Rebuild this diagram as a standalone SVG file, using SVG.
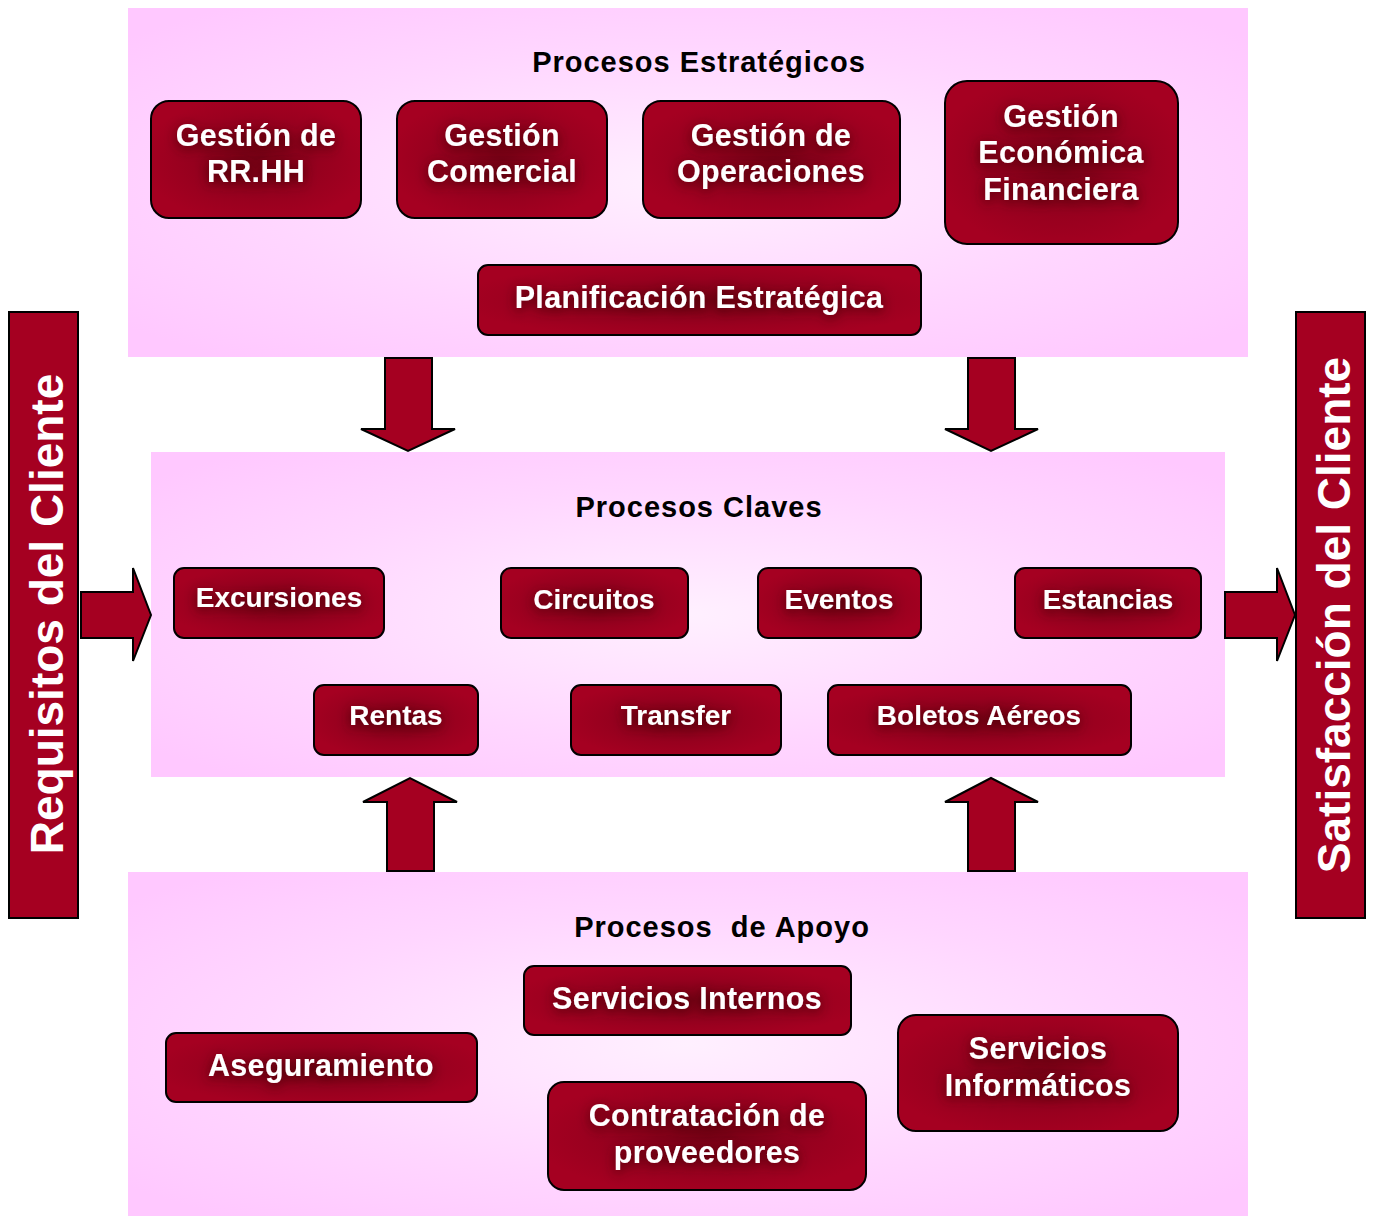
<svg xmlns="http://www.w3.org/2000/svg" width="1374" height="1216" viewBox="0 0 1374 1216">
  <defs>
    <radialGradient id="panelFill" cx="50%" cy="50%" r="65%">
      <stop offset="0" stop-color="#fff0ff"/>
      <stop offset="0.6" stop-color="#ffd6ff"/>
      <stop offset="1" stop-color="#ffc8ff"/>
    </radialGradient>
    <radialGradient id="boxFill" cx="50%" cy="50%" r="55%">
      <stop offset="0" stop-color="#760014"/>
      <stop offset="0.55" stop-color="#96001e"/>
      <stop offset="1" stop-color="#a50021"/>
    </radialGradient>
    <filter id="glow" x="-20%" y="-60%" width="140%" height="220%">
      <feGaussianBlur in="SourceAlpha" stdDeviation="6" result="b"/>
      <feOffset in="b" dx="0" dy="3" result="o"/>
      <feFlood flood-color="#3a0008" flood-opacity="0.85"/>
      <feComposite in2="o" operator="in" result="s"/>
      <feMerge>
        <feMergeNode in="s"/>
        <feMergeNode in="SourceGraphic"/>
      </feMerge>
    </filter>
  </defs>
  <style>
    .panel { fill: url(#panelFill); }
    .box { fill: url(#boxFill); stroke: #000; stroke-width: 2; }
    .bar { fill: #a50021; stroke: #000; stroke-width: 2; }
    .arrow { fill: #a50021; stroke: #000; stroke-width: 2; stroke-linejoin: miter; }
    .lbl { font-family: "Liberation Sans", Arial, sans-serif; font-weight: bold; fill: #fff; text-anchor: middle; font-size: 30.5px; letter-spacing: 0.3px; filter: url(#glow); }
    .mid { font-size: 28px; letter-spacing: 0; }
    .title { font-family: "Liberation Sans", Arial, sans-serif; font-weight: bold; fill: #000; text-anchor: middle; font-size: 29px; letter-spacing: 1px; white-space: pre; }
    .side { font-family: "Liberation Sans", Arial, sans-serif; font-weight: bold; fill: #fff; text-anchor: middle; font-size: 46px; }
  </style>

  <!-- background panels -->
  <rect class="panel" x="128" y="8" width="1120" height="349"/>
  <rect class="panel" x="151" y="452" width="1074" height="325"/>
  <rect class="panel" x="128" y="872" width="1120" height="344"/>

  <!-- side bars -->
  <g id="requisitos">
    <rect class="bar" x="9" y="312" width="69" height="606"/>
    <text class="side" transform="translate(63,614) rotate(-90)">Requisitos del Cliente</text>
  </g>
  <g id="satisfaccion">
    <rect class="bar" x="1296" y="312" width="69" height="606"/>
    <text class="side" transform="translate(1350,615) rotate(-90)">Satisfacción del Cliente</text>
  </g>

  <!-- block arrows between the groups -->
  <g id="connectors">
    <polygon class="arrow" points="385,358 432,358 432,429 455,429 408,451 361,429 385,429"/>
    <polygon class="arrow" points="968,358 1015,358 1015,429 1038,429 991,451 945,429 968,429"/>
    <polygon class="arrow" points="387,871 434,871 434,802 457,802 410,778 363,802 387,802"/>
    <polygon class="arrow" points="968,871 1015,871 1015,802 1038,802 991,778 945,802 968,802"/>
    <polygon class="arrow" points="81,592 133,592 133,568 151,615 133,661 133,638 81,638"/>
    <polygon class="arrow" points="1225,592 1277,592 1277,568 1295,615 1277,661 1277,638 1225,638"/>
  </g>

  <!-- strategic processes -->
  <text class="title" x="699" y="72">Procesos Estratégicos</text>
  <g id="rrhh">
    <rect class="box" x="151" y="101" width="210" height="117" rx="18"/>
    <text class="lbl" x="256" y="146">Gestión de</text>
    <text class="lbl" x="256" y="182">RR.HH</text>
  </g>
  <g id="comercial">
    <rect class="box" x="397" y="101" width="210" height="117" rx="18"/>
    <text class="lbl" x="502" y="146">Gestión</text>
    <text class="lbl" x="502" y="182">Comercial</text>
  </g>
  <g id="operaciones">
    <rect class="box" x="643" y="101" width="257" height="117" rx="18"/>
    <text class="lbl" x="771" y="146">Gestión de</text>
    <text class="lbl" x="771" y="182">Operaciones</text>
  </g>
  <g id="economica">
    <rect class="box" x="945" y="81" width="233" height="163" rx="22"/>
    <text class="lbl" x="1061" y="127">Gestión</text>
    <text class="lbl" x="1061" y="163">Económica</text>
    <text class="lbl" x="1061" y="200">Financiera</text>
  </g>
  <g id="planificacion">
    <rect class="box" x="478" y="265" width="443" height="70" rx="10"/>
    <text class="lbl" x="699" y="308">Planificación Estratégica</text>
  </g>

  <!-- key processes -->
  <text class="title" x="699" y="517">Procesos Claves</text>
  <g id="excursiones">
    <rect class="box" x="174" y="568" width="210" height="70" rx="10"/>
    <text class="lbl mid" x="279" y="607">Excursiones</text>
  </g>
  <g id="circuitos">
    <rect class="box" x="501" y="568" width="187" height="70" rx="10"/>
    <text class="lbl mid" x="594" y="609">Circuitos</text>
  </g>
  <g id="eventos">
    <rect class="box" x="758" y="568" width="163" height="70" rx="10"/>
    <text class="lbl mid" x="839" y="609">Eventos</text>
  </g>
  <g id="estancias">
    <rect class="box" x="1015" y="568" width="186" height="70" rx="10"/>
    <text class="lbl mid" x="1108" y="609">Estancias</text>
  </g>
  <g id="rentas">
    <rect class="box" x="314" y="685" width="164" height="70" rx="10"/>
    <text class="lbl mid" x="396" y="725">Rentas</text>
  </g>
  <g id="transfer">
    <rect class="box" x="571" y="685" width="210" height="70" rx="10"/>
    <text class="lbl mid" x="676" y="725">Transfer</text>
  </g>
  <g id="boletos">
    <rect class="box" x="828" y="685" width="303" height="70" rx="10"/>
    <text class="lbl mid" x="979" y="725">Boletos Aéreos</text>
  </g>

  <!-- support processes -->
  <text class="title" x="722" y="937">Procesos  de Apoyo</text>
  <g id="internos">
    <rect class="box" x="524" y="966" width="327" height="69" rx="10"/>
    <text class="lbl" x="687" y="1009">Servicios Internos</text>
  </g>
  <g id="aseguramiento">
    <rect class="box" x="166" y="1033" width="311" height="69" rx="10"/>
    <text class="lbl" x="321" y="1076">Aseguramiento</text>
  </g>
  <g id="contratacion">
    <rect class="box" x="548" y="1082" width="318" height="108" rx="16"/>
    <text class="lbl" x="707" y="1126">Contratación de</text>
    <text class="lbl" x="707" y="1163">proveedores</text>
  </g>
  <g id="informaticos">
    <rect class="box" x="898" y="1015" width="280" height="116" rx="18"/>
    <text class="lbl" x="1038" y="1059">Servicios</text>
    <text class="lbl" x="1038" y="1096">Informáticos</text>
  </g>
</svg>
